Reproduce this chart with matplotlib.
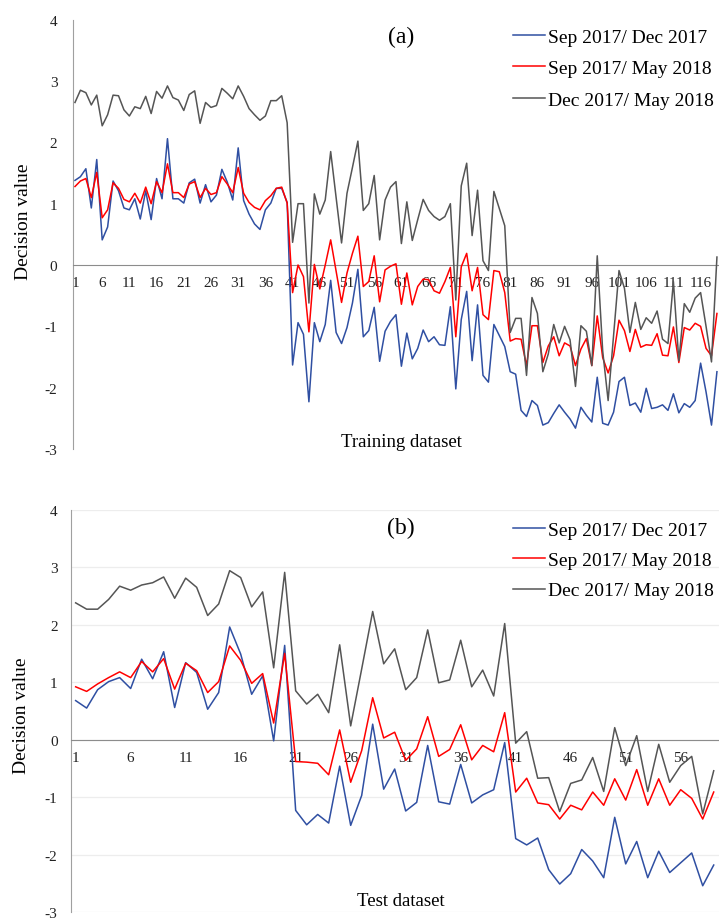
import numpy as np
import matplotlib
matplotlib.use("Agg")
import matplotlib.pyplot as plt

plt.rcParams['font.family'] = ['Liberation Serif', 'DejaVu Serif']
plt.rcParams['axes.unicode_minus'] = False

labels = ['Sep 2017/ Dec 2017', 'Sep 2017/ May 2018', 'Dec 2017/ May 2018']
colors = ['#2F4FA2', '#FF0000', '#555555']

# (a) training dataset, samples 1..119 (the chart is cut at the right edge)
train_sep_dec = [
    1.38, 1.44, 1.57, 0.93, 1.72, 0.41, 0.62, 1.37, 1.21, 0.93,
    0.90, 1.08, 0.75, 1.21, 0.74, 1.41, 1.08, 2.06, 1.08, 1.08,
    1.01, 1.34, 1.40, 1.01, 1.31, 1.03, 1.14, 1.56, 1.35, 1.06,
    1.91, 1.05, 0.83, 0.67, 0.58, 0.90, 1.01, 1.25, 1.25, 1.02,
    -1.63, -0.94, -1.13, -2.23, -0.94, -1.25, -0.97, -0.25, -1.10, -1.28,
    -1.02, -0.62, -0.07, -1.17, -1.07, -0.69, -1.57, -1.08, -0.92, -0.81,
    -1.65, -1.11, -1.53, -1.36, -1.06, -1.25, -1.17, -1.30, -1.31, -0.68,
    -2.02, -0.89, -0.43, -1.56, -0.65, -1.80, -1.91, -0.97, -1.15, -1.33,
    -1.74, -1.78, -2.37, -2.47, -2.21, -2.29, -2.61, -2.57, -2.42, -2.28,
    -2.40, -2.51, -2.66, -2.32, -2.45, -2.56, -1.83, -2.58, -2.61, -2.40,
    -1.90, -1.83, -2.29, -2.25, -2.40, -2.01, -2.34, -2.32, -2.28, -2.37,
    -2.10, -2.41, -2.26, -2.32, -2.21, -1.60, -2.07, -2.61, -1.74]
train_sep_may = [
    1.28, 1.37, 1.41, 1.10, 1.51, 0.77, 0.90, 1.34, 1.25, 1.07,
    1.03, 1.17, 1.01, 1.27, 1.00, 1.36, 1.18, 1.65, 1.18, 1.18,
    1.10, 1.32, 1.36, 1.10, 1.25, 1.15, 1.18, 1.44, 1.32, 1.18,
    1.59, 1.17, 1.02, 0.94, 0.90, 1.05, 1.13, 1.25, 1.27, 1.01,
    -0.45, 0.00, -0.19, -1.09, 0.01, -0.39, 0.00, 0.41, -0.10, -0.61,
    -0.13, 0.19, 0.47, -0.35, -0.27, 0.15, -0.60, -0.08, -0.02, 0.02,
    -0.64, -0.13, -0.65, -0.35, -0.23, -0.24, -0.42, -0.46, -0.27, -0.04,
    -1.17, -0.03, 0.19, -0.42, -0.04, -0.81, -0.89, -0.09, -0.11, -0.45,
    -1.24, -1.20, -1.21, -1.64, -0.99, -0.99, -1.59, -1.32, -1.17, -1.48,
    -1.27, -1.32, -1.64, -1.37, -1.20, -1.64, -0.83, -1.51, -1.76, -1.48,
    -0.90, -1.07, -1.41, -1.05, -1.34, -1.30, -1.31, -1.12, -1.47, -1.48,
    -1.01, -1.59, -1.02, -1.06, -0.95, -1.00, -1.36, -1.48, -0.79]
train_dec_may = [
    2.65, 2.85, 2.81, 2.61, 2.77, 2.27, 2.45, 2.77, 2.76, 2.53,
    2.43, 2.58, 2.55, 2.75, 2.47, 2.83, 2.72, 2.92, 2.73, 2.69,
    2.52, 2.78, 2.84, 2.31, 2.65, 2.57, 2.60, 2.88, 2.80, 2.71,
    2.92, 2.75, 2.55, 2.45, 2.36, 2.43, 2.68, 2.68, 2.76, 2.32,
    0.37, 1.00, 1.00, -0.62, 1.16, 0.83, 1.06, 1.85, 1.10, 0.36,
    1.17, 1.59, 2.02, 0.89, 1.00, 1.46, 0.41, 1.06, 1.27, 1.36,
    0.35, 1.03, 0.40, 0.74, 1.07, 0.89, 0.79, 0.73, 0.79, 1.00,
    -0.57, 1.29, 1.66, 0.48, 1.22, 0.07, -0.09, 1.20, 0.92, 0.64,
    -1.10, -0.87, -0.87, -1.80, -0.53, -0.79, -1.74, -1.45, -0.97, -1.27,
    -1.00, -1.22, -1.98, -0.99, -1.08, -1.64, 0.15, -1.40, -2.21, -1.15,
    -0.09, -0.38, -1.10, -0.61, -1.05, -0.86, -0.95, -0.75, -1.21, -1.28,
    -0.27, -1.56, -0.63, -0.77, -0.54, -0.45, -1.00, -1.58, 0.13]

# (b) test dataset, samples 1..59
test_sep_dec = [
    0.68, 0.55, 0.87, 1.01, 1.08, 0.89, 1.40, 1.06, 1.53, 0.56,
    1.34, 1.17, 0.53, 0.82, 1.96, 1.49, 0.79, 1.11, -0.02, 1.64,
    -1.23, -1.48, -1.30, -1.45, -0.46, -1.49, -0.97, 0.27, -0.86, -0.51,
    -1.24, -1.09, -0.10, -1.08, -1.12, -0.43, -1.10, -0.96, -0.87, -0.05,
    -1.72, -1.83, -1.71, -2.26, -2.51, -2.33, -1.91, -2.11, -2.40, -1.35,
    -2.16, -1.77, -2.40, -1.94, -2.31, -2.14, -1.97, -2.54, -2.18]
test_sep_may = [
    0.92, 0.84, 0.97, 1.08, 1.18, 1.08, 1.36, 1.18, 1.41, 0.88,
    1.33, 1.20, 0.82, 1.01, 1.63, 1.38, 0.98, 1.15, 0.29, 1.50,
    -0.38, -0.39, -0.41, -0.61, 0.17, -0.74, -0.19, 0.73, 0.03, 0.13,
    -0.36, -0.16, 0.40, -0.29, -0.17, 0.26, -0.35, -0.10, -0.21, 0.47,
    -0.91, -0.67, -1.10, -1.13, -1.38, -1.14, -1.22, -0.91, -1.14, -0.68,
    -1.05, -0.52, -1.14, -0.68, -1.14, -0.87, -1.02, -1.38, -0.91]
test_dec_may = [
    2.38, 2.27, 2.27, 2.44, 2.67, 2.60, 2.69, 2.73, 2.83, 2.46,
    2.81, 2.65, 2.16, 2.36, 2.94, 2.82, 2.31, 2.57, 1.25, 2.91,
    0.85, 0.62, 0.79, 0.47, 1.65, 0.24, 1.23, 2.23, 1.32, 1.58,
    0.87, 1.08, 1.91, 0.99, 1.04, 1.73, 0.92, 1.21, 0.76, 2.02,
    -0.06, 0.14, -0.67, -0.66, -1.25, -0.76, -0.70, -0.31, -0.90, 0.21,
    -0.45, 0.07, -0.90, -0.08, -0.74, -0.45, -0.29, -1.29, -0.54]

W, H = 719, 920


def draw_panel(ax, series, xlim, grid, ypad):
    n = len(series[0])
    x = np.arange(1, n + 1)
    for s, c, lab in zip(series, colors, labels):
        ax.plot(x, s, color=c, lw=1.1, label=lab, zorder=3)
    ax.set_xlim(*xlim)
    ax.set_ylim(-3, 4)
    ticks = list(range(1, n + 1, 5))
    ax.set_xticks(ticks)
    ax.set_xticklabels([str(t) for t in ticks])
    yt = list(range(-3, 5))
    ax.set_yticks(yt)
    ax.set_yticklabels([str(v) for v in yt])
    ax.tick_params(axis='both', length=0, labelsize=11, colors='#222222')
    ax.tick_params(axis='x', pad=8)
    ax.tick_params(axis='y', pad=ypad)
    for side in ['top', 'right']:
        ax.spines[side].set_visible(False)
    ax.spines['bottom'].set_position(('data', 0))
    ax.spines['bottom'].set_color('#8C8C8C')
    ax.spines['left'].set_color('#A0A0A0')
    if grid:
        ax.grid(axis='y', color='#EDEDED', lw=0.9, zorder=0)
        ax.set_axisbelow(True)
    ax.patch.set_alpha(0)


fig = plt.figure(figsize=(W / 100, H / 100), dpi=100)

ax1 = fig.add_axes([72.7 / W, 1 - 450 / H, (W - 72.7) / W, (450 - 20.7) / H])
draw_panel(ax1, [train_sep_dec, train_sep_may, train_dec_may],
           (0.58, 119.38), False, 11)

ax2 = fig.add_axes([70.7 / W, 1 - 913.2 / H, (W - 70.7) / W, (913.2 - 510.7) / H])
draw_panel(ax2, [test_sep_dec, test_sep_may, test_dec_may],
           (0.55, 59.48), True, 9.5)

# panel letters, axis titles
fig.text(401 / W, 1 - 37 / H, '(a)', fontsize=17, ha='center', va='center')
fig.text(401 / W, 1 - 528 / H, '(b)', fontsize=17, ha='center', va='center')
fig.text(401 / W, 1 - 443 / H, 'Training dataset', fontsize=13.5, ha='center', va='center')
fig.text(401 / W, 1 - 902 / H, 'Test dataset', fontsize=13.5, ha='center', va='center')
fig.text(24 / W, 1 - 222 / H, 'Decision value', fontsize=14, rotation=90,
         ha='center', va='center')
fig.text(22 / W, 1 - 716 / H, 'Decision value', fontsize=14, rotation=90,
         ha='center', va='center')

for ax, top, sp in [(ax1, 29, 0.72), (ax2, 522, 0.66)]:
    ax.legend(loc='upper left', bbox_to_anchor=(513 / W, 1 - top / H),
              bbox_transform=fig.transFigure, frameon=False, fontsize=14,
              handlelength=1.65, handletextpad=0.15, labelspacing=sp,
              borderpad=0, borderaxespad=0)

fig.savefig('out.png', dpi=100)
